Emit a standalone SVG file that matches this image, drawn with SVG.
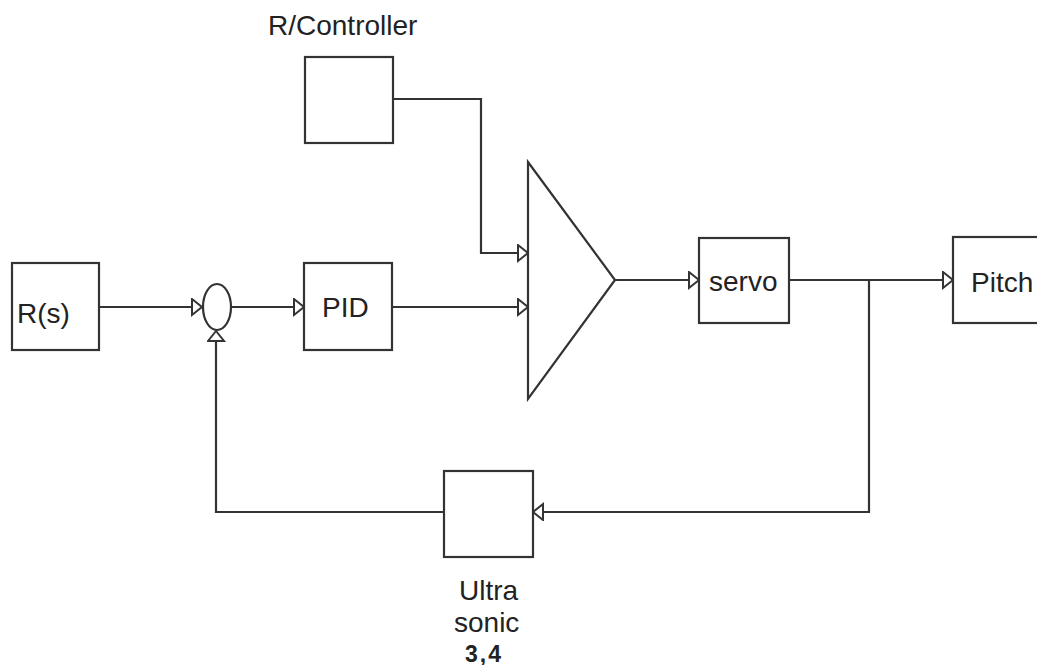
<svg xmlns="http://www.w3.org/2000/svg" width="1037" height="665" viewBox="0 0 1037 665">
<style>
.box{fill:#fff;stroke:#333;stroke-width:2.2}
.ln{fill:none;stroke:#333;stroke-width:2.2}
.t{font-family:"Liberation Sans",Arial,sans-serif;font-size:28px;fill:#222}
.b{font-family:"Liberation Sans",Arial,sans-serif;font-size:23px;font-weight:bold;fill:#222;letter-spacing:2px}
</style>
<defs>
<marker id="a" markerUnits="userSpaceOnUse" markerWidth="16" markerHeight="20" refX="11" refY="9" orient="auto">
<path d="M1,1 L11,9 L1,17 Z" fill="#fff" stroke="#333" stroke-width="2"/>
</marker>
</defs>
<rect width="1037" height="665" fill="#fff"/>
<g id="connectors">
<path class="ln" d="M99,307 H202" marker-end="url(#a)"/>
<path class="ln" d="M231,307 H304" marker-end="url(#a)"/>
<path class="ln" d="M392,307 H528" marker-end="url(#a)"/>
<path class="ln" d="M393,99 H481 V253 H528" marker-end="url(#a)"/>
<path class="ln" d="M615,280 H699" marker-end="url(#a)"/>
<path class="ln" d="M789,280 H953" marker-end="url(#a)"/>
<path class="ln" d="M869,280 V512 H533" marker-end="url(#a)"/>
<path class="ln" d="M444,512 H216 V331" marker-end="url(#a)"/>
</g>
<g id="rs"><rect class="box" x="12" y="263" width="87" height="87"/><text class="t" x="17" y="323">R(s)</text></g>
<g id="sum"><ellipse class="box" cx="217" cy="307" rx="14" ry="23"/></g>
<g id="pid"><rect class="box" x="304" y="263" width="88" height="87"/><text class="t" x="322" y="317">PID</text></g>
<g id="rc"><rect class="box" x="305" y="57" width="88" height="86"/><text class="t" x="268" y="35">R/Controller</text></g>
<g id="amp"><polygon class="box" points="528,162 615,280 528,399"/></g>
<g id="servo"><rect class="box" x="699" y="238" width="90" height="85"/><text class="t" x="709" y="291">servo</text></g>
<g id="pitch"><rect class="box" x="953" y="237" width="100" height="86"/><text class="t" x="971" y="292">Pitch</text></g>
<g id="ultra"><rect class="box" x="444" y="471" width="89" height="86"/>
<text class="t" x="459" y="600">Ultra</text>
<text class="t" x="454" y="632">sonic</text>
<text class="b" x="465" y="662">3,4</text></g>
</svg>
